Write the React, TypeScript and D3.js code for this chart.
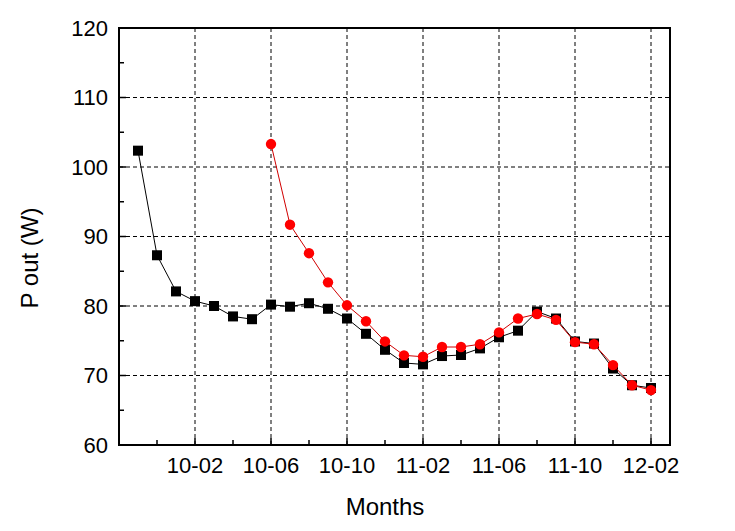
import React from "react";
import * as d3 from "d3";

const months = ["09-11","09-12","10-01","10-02","10-03","10-04","10-05","10-06","10-07","10-08","10-09","10-10","10-11","10-12","11-01","11-02","11-03","11-04","11-05","11-06","11-07","11-08","11-09","11-10","11-11","11-12","12-01","12-02"];
const blackValues = [102.35,87.3,82.1,80.7,80.0,78.5,78.1,80.2,79.9,80.4,79.6,78.2,76.0,73.7,71.8,71.6,72.8,72.95,73.9,75.5,76.45,79.2,78.2,74.9,74.6,71.0,68.6,68.2];
const redMonths = months.slice(7);
const redValues = [103.3,91.7,87.6,83.4,80.1,77.8,74.9,72.9,72.7,74.1,74.1,74.5,76.2,78.2,78.85,78.0,74.8,74.5,71.5,68.6,67.9];
const xTickLabels = ["10-02","10-06","10-10","11-02","11-06","11-10","12-02"];
const yTicks = [60,70,80,90,100,110,120];
const yMinor = [65,75,85,95,105,115];

const W = 735, H = 531;
const L = 119, R = 670, T = 28, B = 445;

export default function App() {
  const idx = (m: string) => months.indexOf(m) + 1;
  const x = d3.scaleLinear().domain([0, 29]).range([L, R]);
  const y = d3.scaleLinear().domain([60, 120]).range([B, T]);
  const line = d3.line<[number, number]>().x(d => x(d[0])).y(d => y(d[1]));
  const blackPts: [number, number][] = months.map((m, i) => [idx(m), blackValues[i]]);
  const redPts: [number, number][] = redMonths.map((m, i) => [idx(m), redValues[i]]);
  const xMinor = [2,6,10,14,18,22,26];
  const font = "'Liberation Sans', Arial, sans-serif";
  return (
    <svg width={W} height={H} style={{ position: "absolute", left: 0, top: 0, background: "#fff" }} fontFamily={font}>
      <rect x={0} y={0} width={W} height={H} fill="#fff" />
      {xTickLabels.map(m => (
        <line key={"gx"+m} x1={x(idx(m))} x2={x(idx(m))} y1={T} y2={B} stroke="#000" strokeWidth={1} strokeDasharray="4,3" />
      ))}
      {yTicks.slice(1, -1).map(v => (
        <line key={"gy"+v} x1={L} x2={R} y1={y(v)} y2={y(v)} stroke="#000" strokeWidth={1} strokeDasharray="4,3" />
      ))}
      {yTicks.map(v => (
        <line key={"ty"+v} x1={L} x2={L+7} y1={y(v)} y2={y(v)} stroke="#000" strokeWidth={1.5} />
      ))}
      {yMinor.map(v => (
        <line key={"tym"+v} x1={L} x2={L+5} y1={y(v)} y2={y(v)} stroke="#000" strokeWidth={1.5} />
      ))}
      {xTickLabels.map(m => (
        <line key={"tx"+m} x1={x(idx(m))} x2={x(idx(m))} y1={B} y2={B-7} stroke="#000" strokeWidth={1.5} />
      ))}
      {xMinor.map(t => (
        <line key={"txm"+t} x1={x(t)} x2={x(t)} y1={B} y2={B-5} stroke="#000" strokeWidth={1.5} />
      ))}
      <path d={line(blackPts) || ""} fill="none" stroke="#000" strokeWidth={1} />
      {blackPts.map((p, i) => (
        <rect key={"b"+i} x={x(p[0]) - 5} y={y(p[1]) - 5} width={10} height={10} fill="#000" />
      ))}
      <path d={line(redPts) || ""} fill="none" stroke="#d00000" strokeWidth={1} />
      {redPts.map((p, i) => (
        <circle key={"r"+i} cx={x(p[0])} cy={y(p[1])} r={5.2} fill="#ff0000" />
      ))}
      <rect x={L} y={T} width={R-L} height={B-T} fill="none" stroke="#000" strokeWidth={2} />
      {yTicks.map(v => (
        <text key={"ly"+v} x={108} y={y(v)} dy="0.36em" textAnchor="end" fontSize={22} fill="#000">{v}</text>
      ))}
      {xTickLabels.map(m => (
        <text key={"lx"+m} x={x(idx(m))} y={473} textAnchor="middle" fontSize={22} fill="#000">{m}</text>
      ))}
      <text x={385} y={515} textAnchor="middle" fontSize={24} fill="#000">Months</text>
      <text transform={`translate(38,258) rotate(-90)`} textAnchor="middle" fontSize={24} fill="#000">P out (W)</text>
    </svg>
  );
}
